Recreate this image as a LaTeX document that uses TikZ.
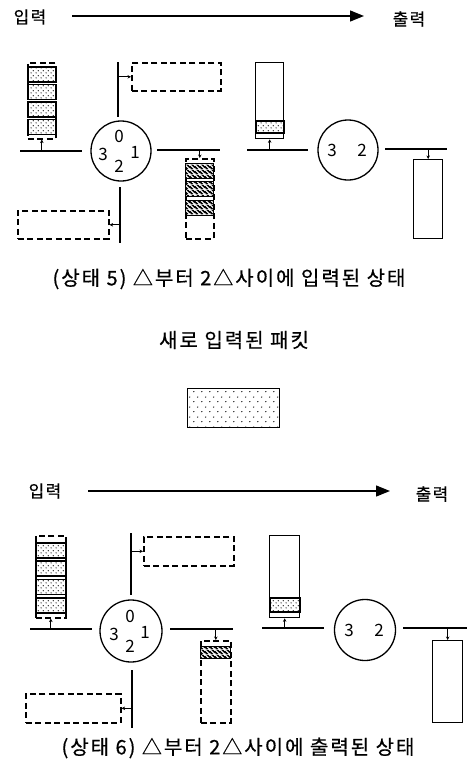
\documentclass[tikz,border=0pt]{standalone}
\usepackage{fontspec}
\setmainfont{Noto Sans CJK KR}
\newfontfamily\capfont{Noto Sans CJK KR}[LetterSpace=10, FakeBold=0.5]
\newfontfamily\lblfont{Noto Sans CJK KR}[LetterSpace=8, FakeBold=0.5]
\usetikzlibrary{arrows.meta,patterns.meta,calc}

\tikzdeclarepattern{
  name=pdots, type=uncolored,
  bounding box={(0,0) and (5pt,5pt)},
  tile size={(5pt,5pt)},
  code={\fill (1.25pt,1.25pt) circle (0.7pt); \fill (3.75pt,3.75pt) circle (0.7pt);}
}
\tikzdeclarepattern{
  name=pdotsbig, type=uncolored,
  bounding box={(0,0) and (7.7pt,10pt)},
  tile size={(7.7pt,10pt)},
  code={\fill (1.9pt,2.5pt) circle (0.7pt); \fill (5.8pt,7.5pt) circle (0.7pt);}
}
\tikzdeclarepattern{
  name=phatch, type=colored,
  bounding box={(0,0) and (5pt,5pt)},
  tile size={(5pt,5pt)},
  code={
    \fill[black] (0pt,0pt) rectangle (5pt,5pt);
    \draw[white, line width=1.3pt] (-1pt,6pt) -- (6pt,-1pt);
    \draw[white, line width=1.3pt] (-1pt,1pt) -- (1pt,-1pt);
    \draw[white, line width=1.3pt] (4pt,6pt) -- (6pt,4pt);
  }
}

\tikzset{
  bus/.style={line width=1.3pt},
  router/.style={circle, draw, line width=1.3pt, minimum size=60pt, inner sep=0pt},
  num/.style={font=\fontsize{17}{17}\selectfont, inner sep=0pt},
  dashbox/.style={draw, line width=1.6pt, dash pattern=on 6pt off 3.5pt, anchor=north west, inner sep=0pt},
  solidbox/.style={draw, line width=1.3pt, anchor=north west, inner sep=0pt},
  dotcell/.style={draw, line width=1.5pt, pattern=pdots, anchor=north west, inner sep=0pt},
  hatchcell/.style={draw, line width=1.4pt, pattern=phatch, anchor=north west, inner sep=0pt},
  conn/.style={line width=0.9pt, -{Stealth[length=3.5pt,width=3.5pt]}},
  bigarrow/.style={line width=1.3pt, -{Triangle[length=14pt,width=11pt]}},
  lbl/.style={font=\lblfont\fontsize{17}{17}\selectfont, inner sep=0pt},
  captext/.style={font=\capfont\fontsize{20}{20}\selectfont, inner sep=0pt},
}

\begin{document}
\begin{tikzpicture}[x=1pt,y=-1pt]
\useasboundingbox (0,0) rectangle (471,774);

% ================= TOP DIAGRAM =================
\node[lbl] (in1) at (30,17) {입력};
\node[lbl] (out1) at (409,19) {출력};
\coordinate (a1s) at (72,16);
\coordinate (a1e) at (364,16);
\draw[bigarrow] (a1s) -- (a1e);

% router 1
\node[router] (r1) at (121,151) {};
\node[num] (r1n0) at ($(r1)+(-2,-15)$) {0};
\node[num] (r1n3) at ($(r1)+(-18,3)$) {3};
\node[num] (r1n1) at ($(r1)+(14,1)$) {1};
\node[num] (r1n2) at ($(r1)+(-2,15)$) {2};

% left bus + queue
\coordinate (b1La) at (20,151); \coordinate (b1Lb) at (82,151);
\draw[bus] (b1La) -- (b1Lb);
\node[dashbox, minimum width=28pt, minimum height=76pt] (q1L) at (27,62) {};
\node[dotcell, minimum width=28pt, minimum height=15pt] (q1c1) at (27,66) {};
\node[dotcell, minimum width=28pt, minimum height=15pt] (q1c2) at (27,83.5) {};
\node[dotcell, minimum width=28pt, minimum height=15pt] (q1c3) at (27,101) {};
\node[dotcell, minimum width=28pt, minimum height=15pt] (q1c4) at (27,118.5) {};
\draw[conn] (q1L.south |- b1La) -- (q1L.south);

% top link + box
\coordinate (l1Ta) at (118,62); \coordinate (l1Tb) at (118,117);
\draw[bus] (l1Ta) -- (l1Tb);
\node[dashbox, minimum width=89pt, minimum height=28pt] (box1T) at (131,62) {};
\draw[conn] (l1Ta |- box1T.west) -- (box1T.west);

% right bus + queue
\coordinate (b1Ra) at (157,150); \coordinate (b1Rb) at (220,150);
\draw[bus] (b1Ra) -- (b1Rb);
\node[dashbox, minimum width=28pt, minimum height=80pt] (q1R) at (185,158) {};
\node[hatchcell, minimum width=28pt, minimum height=15pt] (q1h1) at (185,162.5) {};
\node[hatchcell, minimum width=28pt, minimum height=15pt] (q1h2) at (185,181) {};
\node[hatchcell, minimum width=28pt, minimum height=15pt] (q1h3) at (185,199.5) {};
\draw[conn] (q1R.north |- b1Ra) -- (q1R.north);

% bottom link + box
\coordinate (l1Ba) at (120,187); \coordinate (l1Bb) at (120,243);
\draw[bus] (l1Ba) -- (l1Bb);
\node[dashbox, minimum width=91pt, minimum height=28pt] (box1B) at (17,210) {};
\draw[conn] (l1Ba |- box1B.east) -- (box1B.east);

% router 2
\node[router] (r2) at (348,150) {};
\node[num] (r2n3) at ($(r2)+(-16,0)$) {3};
\node[num] (r2n2) at ($(r2)+(14,0)$) {2};
\coordinate (b2La) at (247,150); \coordinate (b2Lb) at (308,150);
\draw[bus] (b2La) -- (b2Lb);
\node[solidbox, minimum width=28pt, minimum height=76pt] (q2L) at (255,62) {};
\node[dotcell, minimum width=28pt, minimum height=12pt] (q2c1) at (255,120) {};
\draw[conn] (q2L.south |- b2La) -- (q2L.south);
\coordinate (b2Ra) at (385,149); \coordinate (b2Rb) at (447,149);
\draw[bus] (b2Ra) -- (b2Rb);
\node[solidbox, minimum width=29pt, minimum height=79pt] (q2R) at (413,159) {};
\draw[conn] (q2R.north |- b2Ra) -- (q2R.north);

% captions
\node[captext] (cap1) at (229,279) {(상태 5) △부터 2△사이에 입력된 상태};
\node[captext] (newp) at (234,340) {새로 입력된 패킷};
\node[draw, line width=1.3pt, pattern=pdotsbig, anchor=north west, inner sep=0pt,
      minimum width=92pt, minimum height=39pt] (pkt) at (187,388) {};

% ================= BOTTOM DIAGRAM =================
\node[lbl] (in2) at (45,491) {입력};
\node[lbl] (out2) at (432,494) {출력};
\coordinate (a2s) at (88,491);
\coordinate (a2e) at (390,491);
\draw[bigarrow] (a2s) -- (a2e);

% router 3
\node[router, minimum size=62pt] (r3) at (131,631) {};
\node[num] (r3n0) at ($(r3)+(-1,-15)$) {0};
\node[num] (r3n3) at ($(r3)+(-17,3)$) {3};
\node[num] (r3n1) at ($(r3)+(14,1)$) {1};
\node[num] (r3n2) at ($(r3)+(-1,15)$) {2};

\coordinate (b3La) at (30,629); \coordinate (b3Lb) at (92,629);
\draw[bus] (b3La) -- (b3Lb);
\node[dashbox, minimum width=30pt, minimum height=82pt] (q3L) at (35,535) {};
\node[dotcell, minimum width=30pt, minimum height=15pt] (q3c1) at (35,542) {};
\node[dotcell, minimum width=30pt, minimum height=15pt] (q3c2) at (35,560.3) {};
\node[dotcell, minimum width=30pt, minimum height=15pt] (q3c3) at (35,578.6) {};
\node[dotcell, minimum width=30pt, minimum height=15pt] (q3c4) at (35,597) {};
\draw[conn] (q3L.south |- b3La) -- (q3L.south);

\coordinate (l3Ta) at (131,533); \coordinate (l3Tb) at (131,595);
\draw[bus] (l3Ta) -- (l3Tb);
\node[dashbox, minimum width=90pt, minimum height=29pt] (box3T) at (143,536) {};
\draw[conn] (l3Ta |- box3T.west) -- (box3T.west);

\coordinate (b3Ra) at (170,629); \coordinate (b3Rb) at (233,629);
\draw[bus] (b3Ra) -- (b3Rb);
\node[dashbox, minimum width=30pt, minimum height=82pt] (q3R) at (200,640) {};
\node[hatchcell, minimum width=30pt, minimum height=12pt] (q3h1) at (200,646) {};
\draw[conn] (q3R.north |- b3Ra) -- (q3R.north);

\coordinate (l3Ba) at (132,670); \coordinate (l3Bb) at (132,728);
\draw[bus] (l3Ba) -- (l3Bb);
\node[dashbox, minimum width=95pt, minimum height=29pt] (box3B) at (25,693) {};
\draw[conn] (l3Ba |- box3B.east) -- (box3B.east);

% router 4
\node[router, minimum size=61pt] (r4) at (365,630) {};
\node[num] (r4n3) at ($(r4)+(-16,0)$) {3};
\node[num] (r4n2) at ($(r4)+(14,0)$) {2};
\coordinate (b4La) at (262,628); \coordinate (b4Lb) at (324,628);
\draw[bus] (b4La) -- (b4Lb);
\node[solidbox, minimum width=30pt, minimum height=82pt] (q4L) at (269,535) {};
\node[dotcell, minimum width=30pt, minimum height=14pt] (q4c1) at (269,597) {};
\draw[conn] (q4L.south |- b4La) -- (q4L.south);
\coordinate (b4Ra) at (403,628); \coordinate (b4Rb) at (467,628);
\draw[bus] (b4Ra) -- (b4Rb);
\node[solidbox, minimum width=30pt, minimum height=82pt] (q4R) at (432,640) {};
\draw[conn] (q4R.north |- b4Ra) -- (q4R.north);

\node[captext] (cap2) at (238,748) {(상태 6) △부터 2△사이에 출력된 상태};
\end{tikzpicture}
\end{document}
